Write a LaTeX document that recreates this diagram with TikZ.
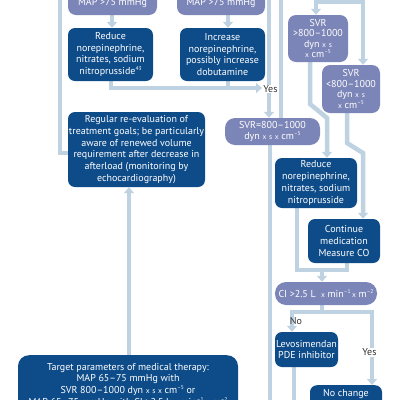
\documentclass[tikz,border=0pt]{standalone}
\usepackage{fontspec}
\setmainfont{PT Sans}
\usetikzlibrary{arrows.meta,backgrounds}
\definecolor{dkblue}{HTML}{0E4C89}
\definecolor{lpurple}{HTML}{7C85B7}
\definecolor{lline}{HTML}{BED2E1}
\definecolor{lbl}{HTML}{333333}
\newcommand{\smx}{{\fontsize{7.5}{8}\selectfont x}}
\newcommand{\sms}{{\fontsize{7.5}{8}\selectfont s}}
\newcommand{\mysup}[1]{\raisebox{0.85ex}{\fontsize{5.5}{6}\selectfont #1}}
\begin{document}
\begin{tikzpicture}[x=1pt,y=-1pt,
  every node/.style={font=\fontsize{10}{11.7}\selectfont},
  dbox/.style={fill=dkblue, text=white, rounded corners=7pt, align=center, inner sep=0pt},
  pbox/.style={fill=lpurple, text=white, rounded corners=8pt, align=center, inner sep=0pt},
  tight/.style={font=\fontsize{10}{10.5}\selectfont},
  lab/.style={text=lbl, inner sep=0.5pt},
  line/.style={draw=lline, line width=4.5pt},
  arr/.style={line, -{Triangle[width=10pt,length=6pt]}}]
\useasboundingbox (0,0) rectangle (400,400);
% boxes
\node[pbox, minimum width=89pt, minimum height=24pt] (mapL) at (112.5,3) {MAP >75 mmHg};
\node[pbox, minimum width=88pt, minimum height=24pt] (mapR) at (221,3) {MAP >75 mmHg};
\node[dbox, minimum width=85pt, minimum height=53pt] (redL) at (110.5,54.5)
  {Reduce\\norepinephrine,\\nitrates, sodium\\nitroprusside\mysup{43}};
\node[dbox, minimum width=85pt, minimum height=53pt] (incR) at (222.5,54.5)
  {Increase\\norepinephrine,\\possibly increase\\dobutamine};
\node[dbox, minimum width=137pt, minimum height=75pt] (regular) at (136.5,149.5)
  {Regular re-evaluation of\\treatment goals; be particularly\\aware of renewed volume\\requirement after decrease in\\afterload (monitoring by\\echocardiography)};
\node[pbox, tight, minimum width=60pt, minimum height=47pt] (svrGT) at (318,38.5)
  {SVR\\>800--1000\\dyn \smx\ \sms\\\smx\ cm\mysup{--5}};
\node[pbox, tight, minimum width=58pt, minimum height=48pt] (svrLT) at (351,89)
  {SVR\\<800--1000\\dyn \smx\ \sms\\\smx\ cm\mysup{--5}};
\node[pbox, rounded corners=10pt, minimum width=95pt, minimum height=27pt] (svrEq) at (272.5,131.5)
  {SVR=800--1000\\dyn \smx\ \sms\ \smx\ cm\mysup{--5}};
\node[dbox, minimum width=82pt, minimum height=50pt] (redR) at (316,183)
  {Reduce\\norepinephrine,\\nitrates, sodium\\nitroprusside};
\node[dbox, minimum width=72pt, minimum height=44pt] (cont) at (344,241)
  {Continue\\medication\\Measure CO};
\node[pbox, rounded corners=11pt, minimum width=102pt, minimum height=23pt] (ci) at (326,293.5)
  {CI >2.5 L \ \smx\ min\mysup{--1}\,\smx\ m\mysup{--2}};
\node[dbox, minimum width=63pt, minimum height=35pt] (levo) at (306.5,349.5)
  {Levosimendan\\PDE inhibitor};
\node[dbox, anchor=north, minimum width=72pt, text height=7pt, text depth=28pt, inner ysep=4pt] (noch) at (346,385)
  {No change};
\node[dbox, anchor=north, rounded corners=11pt, minimum width=220pt, minimum height=60pt, inner ysep=8pt] (target) at (128,355)
  {Target parameters of medical therapy:\\MAP 65--75 mmHg with\\SVR 800--1000 dyn \smx\ \sms\ \smx\ cm\mysup{--5} or\\MAP 65--75 mmHg with CI >2.5 L \smx\ min\mysup{--1} \smx\ m\mysup{--2}};
% free ends
\coordinate (tL) at (60,-5);
\coordinate (t2) at (269,-5);
\coordinate (t3) at (281,-5);
\coordinate (t4) at (335,-5);
\coordinate (j4) at (335,2);
\coordinate (yesend) at (262,88);
\coordinate (m1) at (322,270);
\coordinate (m2) at (322,312);
\coordinate (b1) at (270,405);
\coordinate (b2) at (294,405);
\begin{pgfonlayer}{background}
\draw[line] (tL) -- (60,153) -- (regular.west |- 60,153);
\draw[arr] (mapL.south -| 112,0) -- (redL.north -| 112,0);
\draw[arr] (mapR.south -| 228,0) -- (incR.north -| 228,0);
\draw[arr] (redL.south -| 111,0) |- (yesend);
\draw[line] (incR.south -| 228,0) -- (228,88);
\draw[arr] (t2) -- (svrEq.north -| 269,0);
\draw[line] (t3) -- (svrEq.north -| 281,0);
\draw[line] (t4) -- (j4);
\draw[arr] (j4) -| (svrGT.north -| 316,0);
\draw[arr] (j4) -| (svrLT.north -| 363,0);
\draw[arr] (svrGT.south -| 310,0) -- (310,104) -- (327,118) -- (redR.north -| 327,0);
\draw[arr] (svrLT.south -| 347,0) -- (347,143) -- (363,153) -- (cont.north -| 363,0);
\draw[line] (svrEq.south -| 270,0) -- (b1);
\draw[line] (redR.south -| 297,0) |- (m1);
\draw[line] (cont.south -| 347,0) |- (m1);
\draw[arr] (m1) -- (ci.north -| m1);
\draw[line] (ci.south -| m2) -- (m2);
\draw[arr] (m2) -| (levo.north -| 292,0);
\draw[arr] (m2) -| (noch.north -| 372,0);
\draw[line] (levo.south -| 294,0) -- (b2);
\draw[arr] (target.north -| 129,0) -- (regular.south -| 129,0);
\end{pgfonlayer}
% labels
\node[lab, fill=white] (yes1) at (270.5,89) {Yes};
\node[lab] (no1) at (296,321) {No};
\node[lab, fill=white] (yes2) at (369.5,352.5) {Yes};
\end{tikzpicture}
\end{document}
